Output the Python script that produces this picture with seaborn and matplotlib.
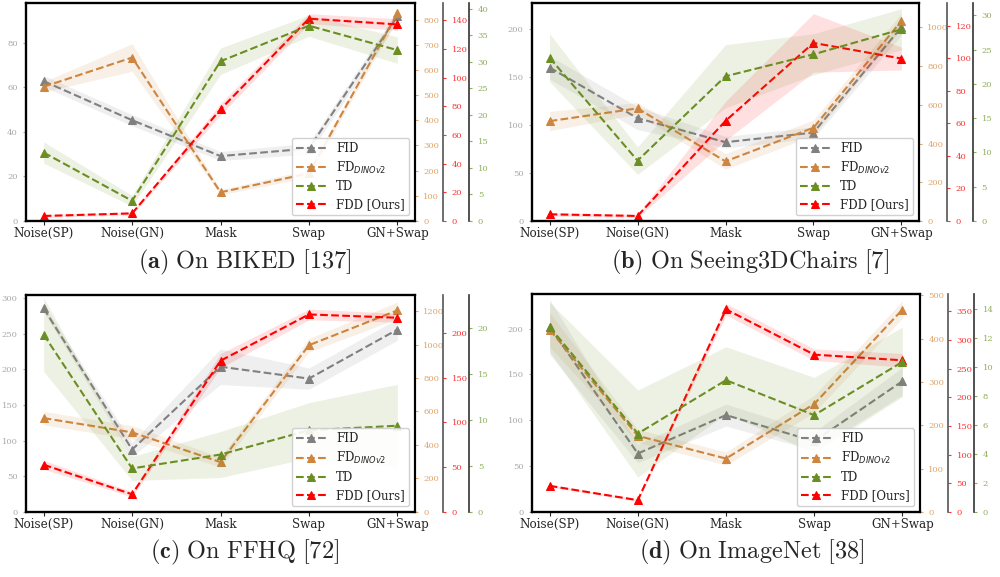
import matplotlib.pyplot as plt
import matplotlib.ticker as mticker
import numpy as np
import pandas as pd
import seaborn as sns

CATEGORIES = ["Noise(SP)", "Noise(GN)", "Mask", "Swap", "GN+Swap"]
METRICS = ["FID", "FD$_{DINOv2}$", "TD", "FDD [Ours]"]

# (a) BIKED
BIKED_FID = [62.7, 45.2, 29.1, 32.5, 91.8]
BIKED_FID_ERR = [2.5, 2.5, 2.0, 2.5, 2.5]
BIKED_FD = [533, 649, 114, 189, 824]
BIKED_FD_ERR = [20, 55, 10, 15, 20]
BIKED_FDD = [3.5, 5.3, 77.8, 141, 137]
BIKED_FDD_ERR = [1.0, 1.0, 4.0, 3.5, 4.0]
BIKED_TD = [12.9, 3.8, 30.1, 36.8, 32.2]
BIKED_TD_ERR = [2.0, 1.0, 2.5, 2.0, 2.5]

# (b) Seeing3DChairs
CHAIRS_FID = [159.7, 107, 82, 92, 201.7]
CHAIRS_FID_ERR = [12, 12, 6, 6, 8]
CHAIRS_FD = [516, 582, 308, 482, 1034]
CHAIRS_FD_ERR = [50, 30, 40, 40, 40]
CHAIRS_FDD = [4.1, 3.1, 61.5, 109.4, 99.8]
CHAIRS_FDD_ERR = [1.0, 1.0, 12, 18, 7]
CHAIRS_TD = [23.8, 8.8, 21.1, 24.3, 27.95]
CHAIRS_TD_ERR = [3.5, 2.0, 4.6, 3.0, 3.0]

# (c) FFHQ
FFHQ_FID = [285.6, 87.4, 203.7, 187, 255.8]
FFHQ_FID_ERR = [5, 10, 25, 15, 15]
FFHQ_FD = [560, 475, 297, 996, 1204]
FFHQ_FD_ERR = [40, 40, 30, 40, 50]
FFHQ_FDD = [52.6, 19.6, 168.9, 220.7, 217]
FFHQ_FDD_ERR = [5, 3, 8, 6, 5]
FFHQ_TD = [19.24, 4.71, 6.22, 8.85, 9.35]
FFHQ_TD_ERR = [4.0, 1.3, 2.5, 3.0, 4.5]

# (d) ImageNet
IMNET_FID = [201.8, 63.6, 105.5, 77, 142.5]
IMNET_FID_ERR = [30, 10, 12, 10, 15]
IMNET_FD = [420.8, 175.4, 123, 249, 467]
IMNET_FD_ERR = [40, 15, 15, 20, 20]
IMNET_FDD = [45.3, 20.3, 353.5, 274.4, 264.5]
IMNET_FDD_ERR = [2, 2, 10, 10, 12]
IMNET_TD = [12.74, 5.39, 9.07, 6.66, 10.33]
IMNET_TD_ERR = [1.7, 3.0, 2.3, 2.6, 2.4]

LINE_COLORS = ["#808080", "#cd853f", "#6b8e23", "#ff0000"]
TICK_COLORS = ["#a8a8a8", "#e0a468", "#8fae5a", "#ff3030"]


def configure_style() -> None:
    sns.set_theme(style="ticks")
    plt.rcParams["font.family"] = ["DejaVu Serif"]
    plt.rcParams["axes.linewidth"] = 1.5
    plt.rcParams["axes.edgecolor"] = "black"


def draw_panel(fig, rect, series, tops, steps, caption, caption_xy):
    ax = fig.add_axes(rect)
    ax_fd = ax.twinx()
    ax_fdd = ax.twinx()
    ax_td = ax.twinx()
    ax_fdd.spines["right"].set_position(("axes", 1.073))
    ax_td.spines["right"].set_position(("axes", 1.14))
    ax_fdd.spines["right"].set_color("#555555")
    ax_td.spines["right"].set_color("#333333")
    ax_fdd.spines["right"].set_linewidth(1.2)
    ax_td.spines["right"].set_linewidth(1.2)
    axes = [ax, ax_fd, ax_td, ax_fdd]

    handles = []
    for i, (a, (vals, errs)) in enumerate(zip(axes, series)):
        vals = np.asarray(vals, dtype=float)
        errs = np.asarray(errs, dtype=float)
        df = pd.DataFrame({"cat": CATEGORIES, "val": vals})
        a.fill_between(CATEGORIES, vals - errs, vals + errs,
                       color=LINE_COLORS[i], alpha=0.12, lw=0)
        sns.lineplot(data=df, x="cat", y="val", ax=a, color=LINE_COLORS[i],
                     linestyle="--", marker="^", markersize=5.5, lw=1.5,
                     markeredgecolor=LINE_COLORS[i], sort=False)
        handles.append(a.lines[-1])
        a.set_ylim(0, tops[i])
        a.yaxis.set_major_locator(mticker.MultipleLocator(steps[i]))
        a.tick_params(axis="y", colors=TICK_COLORS[i], labelsize=6,
                      length=2.5, width=0.8)
        a.set_xlabel("")
        a.set_ylabel("")

    ax.set_xlim(-0.2, 4.2)
    ax.tick_params(axis="x", labelsize=8.6, length=3, width=0.8, pad=1.5)

    leg = ax_td.legend(handles=handles, labels=METRICS, loc="lower right",
                       fontsize=8.5, frameon=True, handlelength=2.6,
                       borderpad=0.35, labelspacing=0.4, framealpha=0.9,
                       edgecolor="#cccccc", fancybox=True)
    leg.set_zorder(10)

    fig.text(caption_xy[0], caption_xy[1], caption, ha="center", va="center",
             fontsize=17.5, math_fontfamily="cm")


def main() -> None:
    configure_style()
    fig = plt.figure(figsize=(10, 5.77), dpi=100)

    draw_panel(fig, [0.026, 0.617, 0.389, 0.378],
               [(BIKED_FID, BIKED_FID_ERR), (BIKED_FD, BIKED_FD_ERR),
                (BIKED_TD, BIKED_TD_ERR), (BIKED_FDD, BIKED_FDD_ERR)],
               [97.8, 866, 41.1, 152], [20, 100, 5, 20],
               r"$\mathbf{(a)}\ \mathrm{On\ BIKED\ [137]}$", (0.245, 0.545))
    draw_panel(fig, [0.532, 0.617, 0.387, 0.378],
               [(CHAIRS_FID, CHAIRS_FID_ERR), (CHAIRS_FD, CHAIRS_FD_ERR),
                (CHAIRS_TD, CHAIRS_TD_ERR), (CHAIRS_FDD, CHAIRS_FDD_ERR)],
               [227, 1127, 31.8, 134], [50, 200, 5, 20],
               r"$\mathbf{(b)}\ \mathrm{On\ Seeing3DChairs\ [7]}$", (0.750, 0.545))
    draw_panel(fig, [0.026, 0.113, 0.389, 0.376],
               [(FFHQ_FID, FFHQ_FID_ERR), (FFHQ_FD, FFHQ_FD_ERR),
                (FFHQ_TD, FFHQ_TD_ERR), (FFHQ_FDD, FFHQ_FDD_ERR)],
               [304.6, 1297, 23.56, 242.6], [50, 200, 5, 50],
               r"$\mathbf{(c)}\ \mathrm{On\ FFHQ\ [72]}$", (0.245, 0.043))
    draw_panel(fig, [0.532, 0.113, 0.388, 0.378],
               [(IMNET_FID, IMNET_FID_ERR), (IMNET_FD, IMNET_FD_ERR),
                (IMNET_TD, IMNET_TD_ERR), (IMNET_FDD, IMNET_FDD_ERR)],
               [238, 503.8, 15.03, 380.8], [50, 100, 2, 50],
               r"$\mathbf{(d)}\ \mathrm{On\ ImageNet\ [38]}$", (0.752, 0.043))

    fig.savefig("out.png", dpi=100)


if __name__ == "__main__":
    main()
